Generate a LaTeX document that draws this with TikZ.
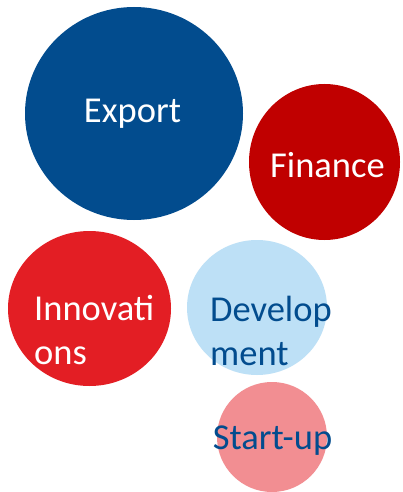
\documentclass[tikz,border=0pt]{standalone}
\usepackage{fontspec}
\setmainfont{Carlito}
\usetikzlibrary{shapes.geometric}
\definecolor{cexport}{RGB}{2,76,142}
\definecolor{cfinance}{RGB}{192,0,0}
\definecolor{cinnov}{RGB}{227,30,36}
\definecolor{cdevel}{RGB}{189,224,246}
\definecolor{cstart}{RGB}{242,142,146}
\definecolor{ctextblue}{RGB}{2,76,142}
\begin{document}
\begin{tikzpicture}[x=1pt,y=-1pt,
  bubble/.style={ellipse,inner sep=0pt,draw=none},
  lbl/.style={inner sep=0pt,font=\fontsize{36.5}{44}\selectfont}]
\fill[white] (0,0) rectangle (403,492);
\useasboundingbox (0,0) rectangle (403,492);
\node[bubble,fill=cexport,minimum width=218pt,minimum height=213pt] (export) at (134,113.5) {};
\node[bubble,fill=cfinance,minimum width=151pt,minimum height=156pt] (finance) at (324.5,162) {};
\node[bubble,fill=cinnov,minimum width=163pt,minimum height=155pt] (innov) at (89.5,308.5) {};
\node[bubble,fill=cdevel,minimum width=140pt,minimum height=135pt] (devel) at (257,307.5) {};
\node[bubble,fill=cstart,minimum width=110pt,minimum height=110pt] (start) at (272,437) {};
\node[lbl,text=white,anchor=base] (texport) at (132.5,123) {Export};
\node[lbl,text=white,anchor=base] (tfinance) at (327.5,177) {Finance};
\node[lbl,text=white,anchor=base west] (tinnov1) at (34,320) {Innovati};
\node[lbl,text=white,anchor=base west] (tinnov2) at (34,364) {ons};
\node[lbl,text=ctextblue,anchor=base west] (tdevel1) at (210,321) {Develop};
\node[lbl,text=ctextblue,anchor=base west] (tdevel2) at (210,365) {ment};
\node[lbl,text=ctextblue,anchor=base] (tstart) at (272.5,449) {Start-up};
\end{tikzpicture}
\end{document}
